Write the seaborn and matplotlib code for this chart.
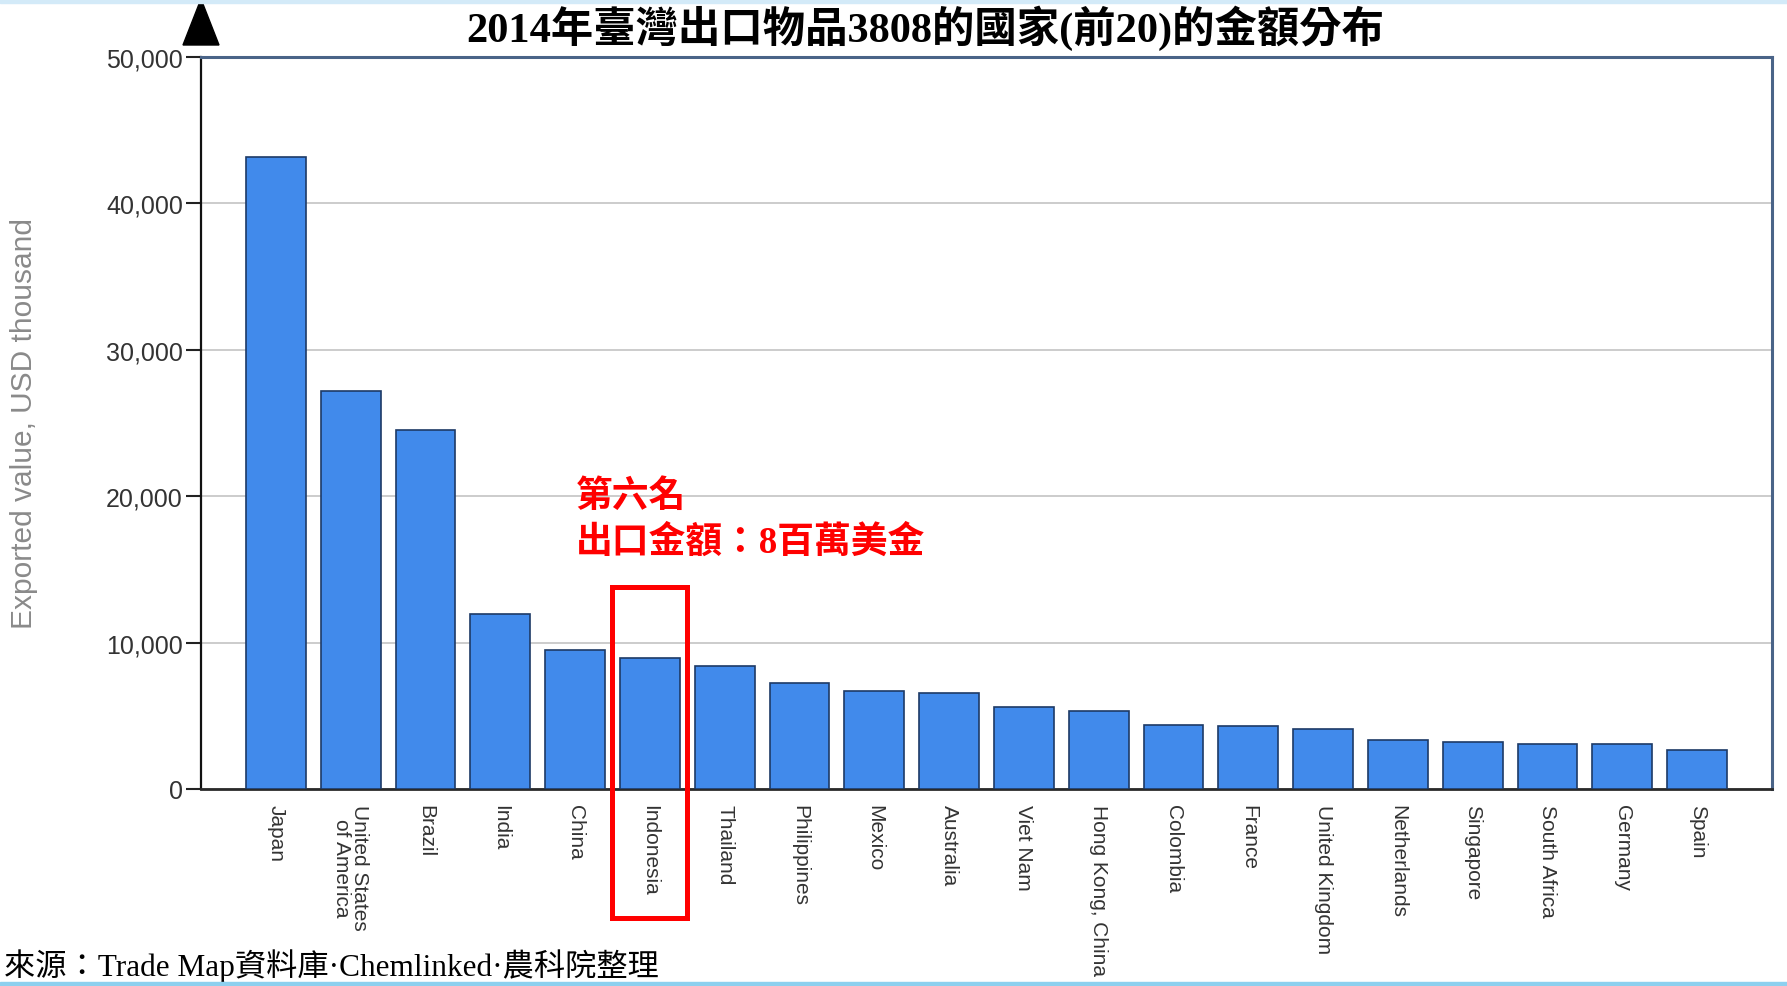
import matplotlib
matplotlib.use("Agg")
import matplotlib.pyplot as plt
import seaborn as sns
import pandas as pd
from matplotlib.patches import Polygon, Rectangle

# ---- data ----
countries = ["Japan", "United States\nof America", "Brazil", "India", "China",
             "Indonesia", "Thailand", "Philippines", "Mexico", "Australia",
             "Viet Nam", "Hong Kong, China", "Colombia", "France", "United Kingdom",
             "Netherlands", "Singapore", "South Africa", "Germany", "Spain"]
values = [43200, 27200, 24550, 11980, 9480, 8930, 8370, 7230, 6700, 6540,
          5600, 5310, 4360, 4330, 4080, 3360, 3230, 3090, 3090, 2680]
yticks = [0, 10000, 20000, 30000, 40000, 50000]
ytick_labels = ["0", "10,000", "20,000", "30,000", "40,000", "50,000"]

title = "2014年臺灣出口物品3808的國家(前20)的金額分布"
ylabel = "Exported value, USD thousand"
note_line1 = "第六名"
note_line2 = "出口金額：8百萬美金"
source = "來源：Trade Map資料庫·Chemlinked·農科院整理"
highlight = "Indonesia"

df = pd.DataFrame({"country": countries, "value": values})

sns.set_theme(style="white")
plt.rcParams["font.family"] = ["Liberation Sans", "Noto Sans CJK TC", "DejaVu Sans"]

W, H = 1787, 987
fig = plt.figure(figsize=(W / 100, H / 100), dpi=100)
fig.patch.set_facecolor("white")

# axes placement (pixels -> fractions)
ax_l, ax_r, ax_t, ax_b = 201, 1772, 58, 790
ax = fig.add_axes([ax_l / W, 1 - ax_b / H, (ax_r - ax_l) / W, (ax_b - ax_t) / H])

sns.barplot(data=df, x="country", y="value", color="#418AEB", saturation=1,
            edgecolor="#1d3a66", linewidth=1.2, width=0.8, ax=ax, zorder=3)

ax.set_xlim(-1.0, 20.0)
ax.set_ylim(0, 50000)
ax.set_yticks(yticks)
ax.set_yticklabels(ytick_labels, fontsize=18, color="#333333")
ax.yaxis.grid(True, color="#c8c8c8", linewidth=1.3, zorder=0)
ax.set_axisbelow(True)
ax.tick_params(axis="y", which="major", left=True, length=11, width=1.5,
               color="#222222", pad=2)
ax.tick_params(axis="x", bottom=False, pad=5)
ax.set_xticks(range(len(countries)))
ax.set_xticklabels(countries, rotation=270, fontsize=15, color="#333333",
                   va="top", ha="center", linespacing=0.95)
ax.set_xlabel("")
ax.set_ylabel(ylabel, fontsize=21.5, color="#8a8a8a")
ax.yaxis.set_label_coords(-0.104, 0.50)

for side in ["top", "right"]:
    ax.spines[side].set_color("#4a6488")
    ax.spines[side].set_linewidth(2.2)
ax.spines["left"].set_color("#111111")
ax.spines["left"].set_linewidth(1.6)
ax.spines["bottom"].set_color("#2a2a2a")
ax.spines["bottom"].set_linewidth(2.0)

# arrow head on top of y-axis
ah = 46 / (ax_b - ax_t)
aw = 18 / (ax_r - ax_l)
base = 1 + 12 / (ax_b - ax_t)
ax.add_patch(Polygon([[-aw, base], [aw, base], [0, base + ah]], closed=True,
                     transform=ax.transAxes, clip_on=False, color="black", zorder=5))

# highlight rectangle around Indonesia
idx = countries.index(highlight)
ax.add_patch(Rectangle((idx - 0.5, -8800), 1.0, 13800 + 8800, fill=False,
                       edgecolor="#ff0000", linewidth=3.6, clip_on=False, zorder=6))

# annotation text
ax.text(idx - 0.99, 20000, note_line1, color="#ff0000", fontsize=26.5, fontweight="bold",
        family=["Liberation Serif", "Noto Sans CJK TC"], ha="left", va="center")
ax.text(idx - 0.99, 16900, note_line2, color="#ff0000", fontsize=26.5, fontweight="bold",
        family=["Liberation Serif", "Noto Sans CJK TC"], ha="left", va="center")

# title
fig.text(925 / W, 1 - 28 / H, title, fontsize=30.5, fontweight="bold",
         family=["Liberation Serif", "Noto Sans CJK TC"], ha="center", va="center",
         color="black")

# source
fig.text(4 / W, 4 / H, source, fontsize=22.5,
         family=["Liberation Serif", "Noto Sans CJK TC"], ha="left", va="bottom",
         color="black")

# slide decoration bands
fig.patches.append(Rectangle((0, 1 - 4 / H), 1, 4 / H, transform=fig.transFigure,
                             color="#d3eaf8", zorder=0))
fig.patches.append(Rectangle((0, 0), 1, 4 / H, transform=fig.transFigure,
                             color="#8dd0ef", zorder=10))

fig.savefig("out.png", dpi=100, facecolor="white")
